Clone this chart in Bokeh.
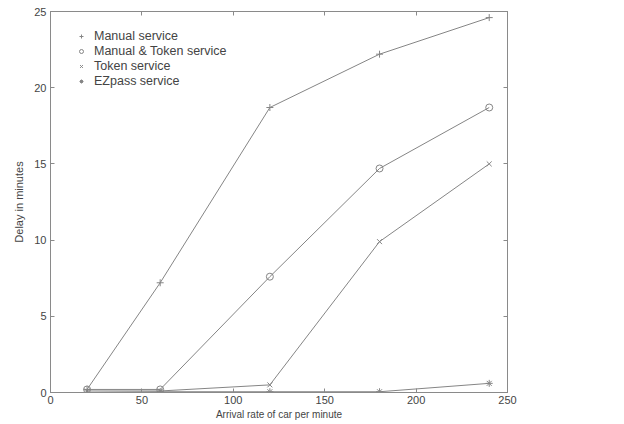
from bokeh.plotting import figure
from bokeh.models import LinearAxis, Legend, LegendItem, FixedTicker, CustomJSTickFormatter
from bokeh.embed import file_html
from bokeh.resources import INLINE

arrival = [20, 60, 120, 180, 240]
manual = [0.2, 7.2, 18.7, 22.2, 24.6]
manual_token = [0.2, 0.2, 7.6, 14.7, 18.7]
token = [0.1, 0.1, 0.5, 9.9, 15.0]
ezpass = [0.0, 0.05, 0.05, 0.05, 0.6]

series_names = ["Manual service", "Manual & Token service", "Token service", "EZpass service"]
markers = ["cross", "circle", "x", "asterisk"]
x_ticks = [0, 50, 100, 150, 200, 250]
y_ticks = [0, 5, 10, 15, 20, 25]

FONT = "Liberation Sans"
GREY = "#8a8a8a"
LINE = "#858585"
TXT = "#444444"

p = figure(width=600, height=422, output_backend="svg", toolbar_location=None,
           x_range=(0, 250), y_range=(0, 25),
           min_border_left=50, min_border_right=93, min_border_top=11, min_border_bottom=0)
p.outline_line_color = GREY
p.xgrid.visible = False
p.ygrid.visible = False
p.background_fill_color = "white"

def style_axis(ax, labels=True):
    ax.axis_line_color = GREY
    ax.major_tick_line_color = GREY
    ax.major_tick_in = 4
    ax.major_tick_out = 0
    ax.minor_tick_line_color = None
    ax.major_label_text_font = FONT
    ax.major_label_text_font_size = "11px"
    ax.major_label_text_color = TXT
    ax.axis_label_text_font = FONT
    ax.axis_label_text_font_size = "10px"
    ax.axis_label_text_font_style = "normal"
    ax.axis_label_text_color = TXT
    if not labels:
        ax.formatter = CustomJSTickFormatter(code="return ''")
        ax.major_label_standoff = 0

p.xaxis.ticker = FixedTicker(ticks=x_ticks)
p.yaxis.ticker = FixedTicker(ticks=y_ticks)
p.xaxis.axis_label = "Arrival rate of car per minute"
p.yaxis.axis_label = "Delay in minutes"
style_axis(p.xaxis[0])
style_axis(p.yaxis[0])
p.xaxis.axis_label_standoff = 2
p.yaxis.axis_label_standoff = 6
p.xaxis.major_label_standoff = 3
p.yaxis.major_label_standoff = 4
p.yaxis.axis_label_text_font_size = "11px"

top = LinearAxis(ticker=FixedTicker(ticks=x_ticks))
right = LinearAxis(ticker=FixedTicker(ticks=y_ticks))
style_axis(top, labels=False)
style_axis(right, labels=False)
p.add_layout(top, "above")
p.add_layout(right, "right")

items = []
for ys, name, mk in zip([manual, manual_token, token, ezpass], series_names, markers):
    p.line(arrival, ys, line_color=LINE, line_width=1)
    r = p.scatter(arrival, ys, marker=mk, size=7, line_color=LINE, fill_color=None, line_width=1)
    items.append(LegendItem(label=name, renderers=[r]))

legend = Legend(items=items, location=(26, 304), border_line_color=None,
                background_fill_alpha=0, label_text_font=FONT, label_text_font_size="12.5px",
                label_text_color=TXT, glyph_width=10, glyph_height=12, label_height=12,
                spacing=1, padding=4, margin=0, label_standoff=8)
p.add_layout(legend)

open("out.html", "w").write(file_html(p, INLINE))
